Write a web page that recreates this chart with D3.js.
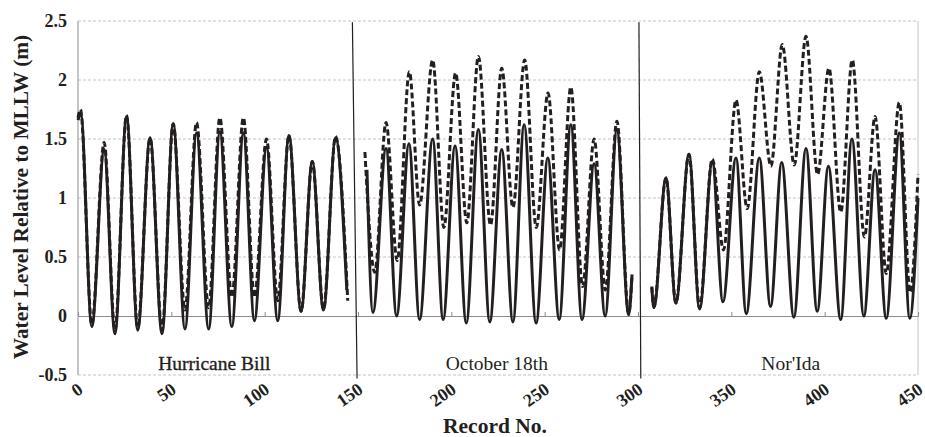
<!DOCTYPE html>
<html>
<head>
<meta charset="utf-8">
<script src="https://cdn.jsdelivr.net/npm/d3@7"></script>
<style>
  body { margin: 0; background: #fff; }
  svg text { font-family: 'Liberation Serif', 'DejaVu Serif', serif; }
</style>
</head>
<body>
<div id="graph"></div>
<script>
// Peaks and troughs: [record no., water level (m)]
// solid = predicted tide, dashed = observed water level
var billSolid = [[0,1.66],[1.5,1.71],[7.4,-0.09],[14,1.41],[19.8,-0.15],[26,1.69],[32,-0.12],[38.6,1.51],[45,-0.15],[51,1.63],[57.3,-0.11],[63.5,1.55],[70,-0.11],[76,1.56],[82.4,-0.09],[88.6,1.55],[94.5,-0.04],[101,1.43],[107,-0.04],[113,1.53],[119.5,0.04],[125.5,1.31],[131.5,0.05],[138,1.51],[144,0.22]];
var billDashed = [[0,1.68],[1.3,1.75],[7.4,-0.07],[14,1.47],[19.8,-0.12],[26,1.70],[32,-0.1],[38.6,1.51],[45,-0.12],[51,1.63],[57.3,0.05],[63.5,1.64],[70,0.07],[76,1.68],[82.4,0.16],[88.6,1.68],[94.5,0.16],[101,1.5],[107,0.13],[113,1.53],[119.5,0.04],[125.5,1.31],[131.5,0.06],[138,1.52],[144.5,0.13]];

var octSolid = [[154.8,1.24],[158,0.03],[165,1.42],[170.7,0.0],[177.3,1.46],[183,-0.03],[190,1.5],[195.6,-0.03],[202,1.44],[208,-0.06],[214.5,1.58],[220.6,-0.05],[227,1.41],[233,-0.05],[239,1.62],[245.4,-0.06],[251.7,1.34],[257.8,-0.03],[264,1.62],[270,-0.03],[276.5,1.29],[282.4,0.0],[288.7,1.58],[295,0.01],[296.8,0.35]];
var octDashed = [[153.7,1.39],[159,0.37],[165,1.64],[171,0.47],[177.5,2.07],[183,0.94],[190,2.17],[196,0.75],[202.3,2.06],[208.3,0.79],[214.5,2.2],[221,0.77],[227,2.1],[233,0.92],[239.3,2.17],[245.5,0.75],[251.8,1.89],[258,0.56],[264,1.94],[270.3,0.25],[276.5,1.5],[282.5,0.22],[288.7,1.65],[295,0.02],[296.8,0.35]];

var idaSolid = [[307.4,0.24],[308.5,0.07],[315,1.17],[320.3,0.11],[327.3,1.37],[333,0.06],[339.8,1.31],[345.5,0.12],[352.5,1.34],[358,0.02],[365,1.34],[371,0.08],[377,1.3],[383.5,-0.01],[390,1.42],[396,0.04],[402,1.27],[408.6,-0.03],[414.6,1.5],[421,0.0],[427,1.24],[433,-0.02],[440,1.55],[445.6,-0.02],[450,1.0]];
var idaDashed = [[307.4,0.25],[308.5,0.08],[315,1.17],[320.3,0.11],[327.3,1.37],[333,0.07],[339.8,1.33],[345.8,0.56],[352.5,1.83],[358.5,0.91],[365,2.07],[371.2,1.27],[377.3,2.3],[383.7,1.28],[390,2.37],[396.2,1.2],[402.3,2.1],[408.6,0.88],[414.8,2.17],[421.3,0.67],[427,1.69],[433,0.36],[440,1.81],[445.8,0.2],[450,1.2]];

// event separators: [record at top, record at bottom]
var separators = [[147, 149.5], [300.5, 301.5]];
var events = [["Hurricane Bill", 73], ["October 18th", 224.4], ["Nor'Ida", 381.8]];
var yTicks = [-0.5, 0, 0.5, 1, 1.5, 2, 2.5];
var xTicks = [0, 50, 100, 150, 200, 250, 300, 350, 400, 450];

var width = 925, height = 437;
var serif = "'Liberation Serif', 'DejaVu Serif', serif";
var x = d3.scaleLinear().domain([0, 450]).range([78, 918]);
var y = d3.scaleLinear().domain([-0.5, 2.5]).range([375, 21]);

var svg = d3.select("#graph").append("svg")
    .attr("width", width)
    .attr("height", height)
    .attr("font-family", serif);

// gridlines
svg.append("g").selectAll("line")
    .data(yTicks.filter(function(d) { return d !== 0; }))
    .enter().append("line")
    .attr("x1", x(0)).attr("x2", x(450))
    .attr("y1", function(d) { return y(d); })
    .attr("y2", function(d) { return y(d); })
    .style("stroke", "#c4c4c4")
    .style("stroke-width", 1)
    .style("stroke-dasharray", "3,2");

// plot border left / right
svg.append("line")
    .attr("x1", x(0)).attr("x2", x(0)).attr("y1", y(2.5)).attr("y2", y(-0.5))
    .style("stroke", "#8c8c8c").style("stroke-width", 1);
svg.append("line")
    .attr("x1", x(450)).attr("x2", x(450)).attr("y1", y(2.5)).attr("y2", y(-0.5))
    .style("stroke", "#c4c4c4").style("stroke-width", 1);

// x axis along the zero line, ticks pointing up
var xAxis = svg.append("g")
    .attr("transform", "translate(0," + y(0) + ")")
    .call(d3.axisTop(x).tickValues(xTicks).tickSize(4).tickFormat(""));
xAxis.select(".domain").attr("stroke", "#8c8c8c");
xAxis.selectAll(".tick line").attr("stroke", "#8c8c8c");

// y tick labels
svg.append("g").selectAll("text")
    .data(yTicks)
    .enter().append("text")
    .attr("x", 67)
    .attr("y", function(d) { return y(d) + 6; })
    .attr("text-anchor", "end")
    .style("font-family", serif)
    .style("font-size", "18px")
    .style("font-weight", "bold")
    .style("fill", "#231f20")
    .text(function(d) { return d; });

// x tick labels, rotated
svg.append("g").selectAll("text")
    .data(xTicks)
    .enter().append("text")
    .attr("text-anchor", "end")
    .attr("transform", function(d) {
        return "translate(" + (x(d) + 6) + "," + (y(-0.5) + 17) + ") rotate(-35)";
    })
    .style("font-family", serif)
    .style("font-size", "18px")
    .style("font-weight", "bold")
    .style("fill", "#231f20")
    .text(function(d) { return d; });

// axis titles
svg.append("text")
    .attr("x", 495)
    .attr("y", 433)
    .attr("text-anchor", "middle")
    .style("font-family", serif)
    .style("font-size", "21.5px")
    .style("font-weight", "bold")
    .style("fill", "#231f20")
    .text("Record No.");

svg.append("text")
    .attr("transform", "translate(28,197) rotate(-90)")
    .attr("text-anchor", "middle")
    .style("font-family", serif)
    .style("font-size", "21.3px")
    .style("font-weight", "bold")
    .style("fill", "#231f20")
    .text("Water Level Relative to MLLW (m)");

// separators
svg.append("g").selectAll("line")
    .data(separators)
    .enter().append("line")
    .attr("x1", function(d) { return x(d[0]); })
    .attr("x2", function(d) { return x(d[1]); })
    .attr("y1", y(2.49))
    .attr("y2", y(-0.53))
    .style("stroke", "#231f20")
    .style("stroke-width", 1.2);

// event names
svg.append("g").selectAll("text")
    .data(events)
    .enter().append("text")
    .attr("x", function(d) { return x(d[1]); })
    .attr("y", y(-0.5) - 5)
    .attr("text-anchor", "middle")
    .style("font-family", serif)
    .style("font-size", "19.5px")
    .style("fill", "#231f20")
    .style("stroke", function(d, i) { return i === 0 ? "#231f20" : "none"; })
    .style("stroke-width", 0.35)
    .text(function(d) { return d[0]; });

var line = d3.line()
    .x(function(d) { return x(d[0]); })
    .y(function(d) { return y(d[1]); })
    .curve(d3.curveMonotoneX);

[billDashed, octDashed, idaDashed].forEach(function(s) {
    svg.append("path")
        .attr("d", line(s))
        .style("fill", "none")
        .style("stroke", "#231f20")
        .style("stroke-width", 3)
        .style("stroke-dasharray", "6,3");
});

[billSolid, octSolid, idaSolid].forEach(function(s) {
    svg.append("path")
        .attr("d", line(s))
        .style("fill", "none")
        .style("stroke", "#231f20")
        .style("stroke-width", 3);
});
</script>
</body>
</html>
